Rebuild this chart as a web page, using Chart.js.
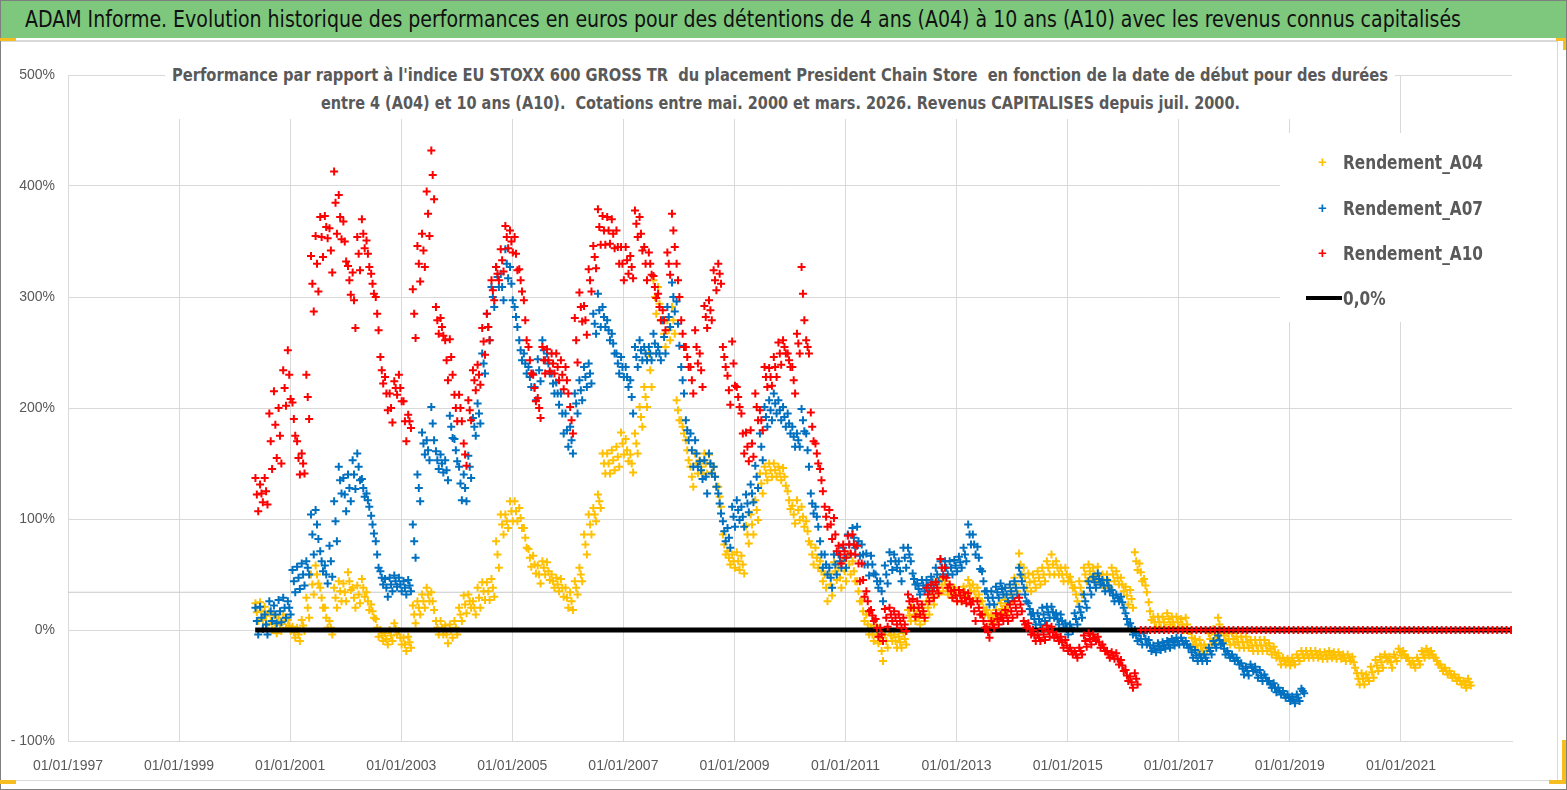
<!DOCTYPE html>
<html>
<head>
<meta charset="utf-8">
<script src="https://cdn.jsdelivr.net/npm/chart.js@4.4.1/dist/chart.umd.min.js"></script>
<style>
    body { margin: 0; width: 1567px; height: 790px; overflow: hidden; background: #fff; }
    #page { position: absolute; left: 0; top: 0; width: 1567px; height: 790px; }
    #chart { position: absolute; left: 0; top: 0; }
    #outer { position: absolute; left: 0; top: 0; width: 1565px; height: 788px; border: 1px solid #7f7f7f; pointer-events: none; }
    #box { position: absolute; left: 0; top: 40px; width: 1557px; height: 738px; border-top: 2px solid #d9d9d9; border-right: 1px solid #d9d9d9; border-bottom: 1px solid #d9d9d9; pointer-events: none; }
    #banner { position: absolute; left: 1px; top: 1px; width: 1565px; height: 37px; background: #7dc87c; }
    .fit { position: absolute; display: inline-block; white-space: pre; transform-origin: 0 50%;
        font-family: 'Liberation Sans Narrow', 'DejaVu Sans Condensed', sans-serif; }
    #bannerText { left: 24px; top: 0; font-size: 23px; line-height: 37px; color: #111; }
    #titleBox { position: absolute; left: 165px; top: 60px; width: 1230px; height: 59px; background: #fff; }
    .tl { font-weight: bold; font-size: 18px; line-height: 26px; color: #595959; }
    #legend { position: absolute; left: 1280px; top: 133px; width: 232px; height: 189px; background: #fff; }
    .item { position: absolute; left: 0; height: 30px; width: 232px; }
    .item .t { left: 63px; top: 0; line-height: 30px; font-weight: bold; font-size: 20px; color: #595959; }
    .item .m { position: absolute; left: 38px; top: 0; line-height: 30px; font-size: 15px; font-weight: bold;
        font-family: 'Liberation Sans', sans-serif; }
    .item .l { position: absolute; left: 26px; top: 13px; width: 36px; height: 4px; background: #000; }
    .handle { position: absolute; background: #f5bd1f; }
</style>
</head>
<body>
<div id="page">
    <canvas id="chart" width="1567" height="790"></canvas>
    <div id="box"></div>
    <div id="banner"><span id="bannerText" class="fit">ADAM Informe. Evolution historique des performances en euros pour des détentions de 4 ans (A04) à 10 ans (A10) avec les revenus connus capitalisés</span></div>
    <div id="titleBox">
        <span id="title1" class="fit tl">Performance par rapport à l'indice EU STOXX 600 GROSS TR  du placement President Chain Store  en fonction de la date de début pour des durées</span>
        <span id="title2" class="fit tl">entre 4 (A04) et 10 ans (A10).  Cotations entre mai. 2000 et mars. 2026. Revenus CAPITALISES depuis juil. 2000.</span>
    </div>
    <div id="legend"></div>
    <div id="outer"></div>
    <div class="handle" style="left:0;top:38px;width:16px;height:3px"></div>
    <div class="handle" style="left:1556px;top:38px;width:10px;height:3px"></div>
    <div class="handle" style="left:1563px;top:38px;width:3px;height:12px"></div>
    <div class="handle" style="left:0;top:780px;width:16px;height:4px"></div>
    <div class="handle" style="left:1562px;top:740px;width:4px;height:44px"></div>
    <div class="handle" style="left:1549px;top:780px;width:17px;height:4px"></div>
</div>

<script>
// monthly readings from mid-2000; "band" = half height of the daily cloud that month
const firstMonth = 2000.4;

const rendementA04 = [
    16, 17, 13, 8, 5, 5, 8, 4, -2, -4, 4, 20,
    41, 50, 29, 11, 2, 29, 35, 34, 44, 29, 32, 38,
    26, 17, 2, -5, -8, -5, 1, -7, -13, -11, 14, 20,
    26, 32, 26, 2, 2, -4, -1, 2, 14, 23, 26, 20,
    29, 35, 35, 38, 68, 95, 98, 107, 107, 101, 83, 65,
    59, 50, 56, 53, 44, 41, 38, 29, 26, 38, 50, 77,
    95, 104, 116, 150, 150, 153, 156, 168, 162, 150, 168, 192,
    210, 234, 300, 294, 267, 270, 279, 198, 183, 162, 138, 150,
    147, 150, 150, 138, 120, 77, 65, 62, 62, 59, 86, 95,
    108, 132, 141, 144, 144, 141, 138, 117, 104, 108, 102, 89,
    68, 65, 53, 38, 41, 53, 47, 53, 59, 53, 35, 17,
    5, -4, -4, -19, -10, -5, -10, -11, -8, 13, 14, 11,
    14, 20, 29, 38, 41, 38, 34, 32, 31, 34, 40, 35,
    32, 20, 13, 11, 13, 19, 22, 32, 41, 59, 47, 43,
    44, 47, 50, 56, 59, 56, 50, 50, 43, 32, 38, 50,
    53, 50, 49, 44, 44, 50, 47, 41, 31, 28, 62, 52,
    40, 17, 7, 7, 7, 10, 7, 7, 5, 5, -7, -13,
    -14, -16, -8, -4, 5, -5, -8, -8, -11, -11, -11, -14,
    -14, -14, -14, -17, -20, -26, -28, -29, -28, -25, -22, -22,
    -22, -22, -23, -23, -22, -23, -23, -25, -25, -29, -44, -44,
    -43, -38, -32, -29, -25, -29, -25, -20, -22, -28, -31, -28,
    -22, -20, -22, -28, -34, -37, -40, -43, -46, -49, -47
];
const bandA04 = [
    8, 8, 8, 8, 8, 6, 6, 5, 5, 6, 5, 9,
    9, 8, 9, 9, 6, 9, 9, 8, 8, 9, 8, 8,
    8, 6, 8, 5, 5, 5, 5, 6, 6, 5, 8, 6,
    6, 6, 8, 6, 6, 8, 6, 6, 6, 8, 6, 6,
    9, 8, 8, 8, 12, 9, 6, 9, 9, 9, 9, 8,
    8, 8, 6, 8, 6, 6, 8, 9, 8, 6, 6, 9,
    9, 6, 6, 9, 9, 9, 9, 10, 10, 8, 9, 9,
    9, 15, 15, 15, 12, 9, 12, 9, 6, 9, 9, 9,
    6, 9, 8, 9, 9, 9, 6, 6, 8, 8, 8, 9,
    9, 9, 6, 6, 6, 6, 8, 8, 8, 9, 9, 9,
    9, 9, 9, 12, 10, 8, 9, 9, 9, 9, 9, 9,
    9, 6, 8, 9, 6, 5, 6, 5, 5, 5, 6, 6,
    6, 6, 6, 6, 6, 6, 5, 6, 5, 5, 5, 6,
    6, 6, 5, 3, 5, 5, 5, 6, 6, 10, 9, 8,
    6, 6, 6, 6, 9, 6, 6, 6, 5, 6, 6, 6,
    6, 6, 8, 6, 6, 6, 6, 6, 8, 8, 8, 8,
    6, 8, 5, 5, 5, 5, 5, 5, 5, 6, 6, 5,
    5, 3, 5, 5, 6, 5, 5, 5, 5, 5, 5, 5,
    5, 5, 5, 5, 5, 5, 3, 3, 3, 3, 3, 3,
    3, 3, 3, 3, 3, 3, 3, 3, 3, 5, 5, 5,
    3, 5, 5, 5, 3, 5, 3, 3, 3, 3, 3, 3,
    3, 3, 3, 3, 3, 3, 3, 3, 3, 3, 3
];

const rendementA07 = [
    8, 11, 5, 17, 14, 17, 20, 20, 44, 47, 50, 56,
    86, 95, 62, 50, 62, 98, 135, 122, 128, 140, 147, 128,
    117, 95, 68, 47, 38, 41, 44, 41, 38, 40, 80, 128,
    168, 162, 186, 153, 150, 144, 183, 162, 132, 128, 147, 183,
    195, 240, 273, 300, 318, 309, 330, 312, 282, 252, 240, 228,
    219, 234, 252, 240, 222, 213, 195, 180, 171, 204, 216, 228,
    231, 276, 288, 282, 270, 258, 240, 237, 228, 210, 246, 252,
    249, 249, 258, 249, 264, 282, 300, 276, 225, 180, 162, 159,
    144, 138, 150, 138, 114, 89, 83, 102, 108, 102, 114, 123,
    138, 165, 192, 198, 204, 198, 192, 186, 174, 171, 189, 162,
    114, 102, 68, 59, 47, 59, 62, 65, 77, 83, 80, 68,
    59, 59, 44, 35, 50, 62, 62, 53, 65, 68, 46, 37,
    40, 40, 43, 50, 56, 56, 56, 58, 61, 68, 86, 77,
    65, 44, 29, 29, 34, 37, 32, 35, 38, 50, 32, 19,
    10, 10, 14, 16, 16, 10, 8, 1, 2, 10, 16, 26,
    38, 43, 46, 40, 40, 31, 29, 25, 10, 1, -5, -8,
    -8, -14, -17, -15, -14, -13, -11, -10, -10, -13, -20, -23,
    -25, -25, -19, -13, -9, -17, -22, -25, -28, -35, -37, -34,
    -38, -41, -43, -49, -52, -55, -58, -61, -63, -61, -55
];
const bandA07 = [
    12, 10, 9, 9, 8, 10, 9, 6, 10, 10, 10, 6,
    18, 13, 9, 8, 14, 18, 12, 15, 12, 13, 12, 8,
    6, 8, 12, 6, 8, 6, 5, 6, 6, 5, 15, 12,
    10, 9, 15, 8, 8, 9, 10, 10, 15, 12, 10, 8,
    9, 9, 12, 9, 9, 12, 13, 15, 9, 9, 9, 9,
    12, 10, 9, 9, 9, 10, 18, 15, 12, 9, 9, 9,
    9, 9, 15, 9, 9, 9, 9, 9, 9, 15, 9, 9,
    6, 6, 9, 6, 15, 9, 13, 20, 12, 9, 15, 12,
    8, 15, 9, 9, 9, 9, 9, 9, 9, 9, 8, 8,
    10, 12, 9, 9, 9, 9, 9, 9, 9, 6, 10, 15,
    9, 9, 12, 9, 9, 9, 6, 9, 9, 9, 13, 9,
    10, 8, 6, 9, 8, 8, 6, 9, 9, 6, 5, 5,
    5, 5, 5, 6, 6, 6, 6, 5, 5, 6, 9, 9,
    10, 9, 6, 6, 5, 5, 6, 6, 6, 6, 6, 5,
    5, 5, 6, 5, 5, 5, 6, 5, 3, 5, 5, 6,
    6, 5, 5, 5, 5, 5, 3, 5, 5, 5, 5, 5,
    5, 5, 3, 3, 3, 3, 3, 3, 3, 3, 5, 5,
    3, 3, 3, 3, 4, 5, 3, 3, 3, 5, 4, 3,
    5, 5, 3, 3, 4, 3, 3, 3, 3, 3, 2
];

const rendementA10 = [
    122, 123, 125, 170, 185, 175, 218, 230, 190, 155, 150, 210,
    312, 330, 354, 363, 342, 385, 372, 350, 315, 297, 339, 357,
    339, 312, 285, 234, 213, 200, 218, 218, 188, 188, 285, 330,
    342, 375, 410, 279, 273, 243, 246, 200, 200, 158, 198, 225,
    230, 260, 273, 306, 321, 333, 354, 350, 339, 315, 279, 243,
    218, 200, 243, 243, 240, 237, 230, 225, 189, 261, 291, 279,
    315, 336, 363, 360, 360, 357, 345, 330, 333, 327, 366, 357,
    330, 330, 309, 291, 279, 330, 360, 315, 267, 246, 225, 255,
    234, 282, 288, 315, 321, 246, 216, 240, 210, 177, 165, 168,
    201, 189, 228, 228, 237, 249, 255, 243, 225, 258, 303, 255,
    183, 159, 135, 102, 95, 86, 68, 71, 77, 77, 60, 45,
    26, 13, 2, -4, 11, 14, 11, 8, 5, 26, 20, 20,
    17, 32, 35, 38, 56, 47, 35, 31, 31, 29, 28, 17,
    20, 8, -2, 5, 10, 11, 13, 17, 20, 23, 5, 1,
    -5, -7, -4, -1, -2, -7, -11, -14, -19, -22, -19, -10,
    -8, -7, -11, -16, -22, -23, -26, -32, -41, -47, -44,
    0, 0, 0, 0, 0, 0, 0, 0, 0, 0, 0, 0, 0, 0, 0, 0, 0, 0, 0, 0,
    0, 0, 0, 0, 0, 0, 0, 0, 0, 0, 0, 0, 0, 0, 0, 0, 0, 0, 0, 0,
    0, 0, 0, 0, 0, 0, 0, 0, 0, 0, 0, 0, 0, 0, 0, 0, 0, 0, 0, 0,
    0, 0, 0, 0, 0, 0, 0, 0, 0, 0, 0, 0, 0, 0, 0, 0, 0, 0, 0, 0, 0
];
const bandA10 = [
    15, 8, 12, 25, 30, 25, 16, 22, 15, 15, 9, 20,
    25, 25, 18, 10, 20, 28, 20, 18, 13, 25, 15, 13,
    12, 9, 15, 12, 15, 13, 6, 12, 18, 6, 22, 16,
    15, 20, 22, 12, 8, 18, 16, 12, 12, 10, 9, 9,
    9, 12, 12, 9, 6, 10, 10, 10, 15, 10, 18, 12,
    12, 9, 12, 10, 9, 12, 13, 12, 12, 20, 13, 13,
    10, 10, 16, 13, 12, 13, 15, 15, 12, 10, 12, 15,
    15, 10, 10, 12, 9, 10, 15, 15, 12, 9, 12, 15,
    15, 10, 9, 9, 9, 9, 13, 20, 9, 18, 13, 12,
    12, 9, 9, 8, 9, 10, 6, 6, 12, 9, 24, 6,
    13, 9, 10, 9, 13, 15, 8, 6, 8, 9, 16, 15,
    9, 5, 8, 6, 8, 6, 6, 6, 6, 6, 8, 6,
    6, 6, 6, 5, 8, 9, 6, 5, 5, 5, 5, 9,
    6, 6, 5, 3, 5, 3, 5, 6, 6, 6, 3, 5,
    5, 3, 5, 5, 5, 3, 5, 5, 3, 3, 3, 5,
    5, 3, 5, 3, 3, 3, 5, 5, 5, 5, 5
];

const zeroLineYears = [2000.37, 2023.0];
const zeroLineValues = [0, 0];
const refLineYears = [1997, 2023];
const refLineValues = [34, 34];

const tickYears = [1997, 1999, 2001, 2003, 2005, 2007, 2009, 2011, 2013, 2015, 2017, 2019, 2021];
const tickPercents = [-100, 0, 100, 200, 300, 400, 500];

const seriesNames = ['Rendement_A04', 'Rendement_A07', 'Rendement_A10', '0,0%'];
const seriesColors = ['#ffc000', '#0070c0', '#ff0000', '#000000'];

// each month: bottom, middle and top of the cloud
function toPoints(values, band) {
    const pts = [];
    values.forEach((v, i) => {
        const x = firstMonth + i / 12;
        const b = band[i] || 0;
        pts.push({ x: x, y: v });
        if (b > 0) {
            pts.push({ x: x + 1 / 40, y: v - b });
            pts.push({ x: x - 1 / 40, y: v + b });
        }
    });
    return pts;
}
function pairPoints(xs, ys) {
    return xs.map((x, i) => ({ x: x, y: ys[i] }));
}

function markerSet(label, values, band, color, order) {
    return {
        type: 'scatter',
        label: label,
        data: toPoints(values, band),
        pointStyle: 'cross',
        pointRadius: 4,
        pointBorderWidth: 2,
        borderColor: color,
        backgroundColor: color,
        order: order
    };
}

Chart.defaults.font.family = "'Liberation Sans', Arial, sans-serif";
Chart.defaults.color = '#595959';

const ctx = document.getElementById('chart');

new Chart(ctx, {
    type: 'scatter',
    data: {
        datasets: [
            markerSet(seriesNames[0], rendementA04, bandA04, seriesColors[0], 3),
            markerSet(seriesNames[1], rendementA07, bandA07, seriesColors[1], 2),
            markerSet(seriesNames[2], rendementA10, bandA10, seriesColors[2], 0),
            {
                type: 'line',
                label: seriesNames[3],
                data: pairPoints(zeroLineYears, zeroLineValues),
                borderColor: seriesColors[3],
                borderWidth: 5,
                pointRadius: 0,
                order: 1
            },
            {
                type: 'line',
                label: 'ref',
                data: pairPoints(refLineYears, refLineValues),
                borderColor: '#c8c8c8',
                borderWidth: 1.2,
                pointRadius: 0,
                order: 4
            }
        ]
    },
    options: {
        responsive: false,
        animation: false,
        layout: { autoPadding: false, padding: { left: 0, right: 55, top: 75, bottom: 9 } },
        plugins: {
            legend: { display: false },
            tooltip: { enabled: false }
        },
        scales: {
            x: {
                type: 'linear',
                min: 1997,
                max: 2023,
                afterFit: s => { s.height = 40; },
                afterBuildTicks: s => { s.ticks = tickYears.map(v => ({ value: v })); },
                grid: { color: '#d9d9d9', drawTicks: false },
                border: { color: '#d9d9d9' },
                ticks: {
                    padding: 17,
                    maxRotation: 0,
                    autoSkip: false,
                    font: { size: 14 },
                    callback: v => '01/01/' + v
                }
            },
            y: {
                min: -100,
                max: 500,
                afterFit: s => { s.width = 68; },
                afterBuildTicks: s => { s.ticks = tickPercents.map(v => ({ value: v })); },
                grid: { color: '#d9d9d9', drawTicks: false },
                border: { color: '#d9d9d9' },
                ticks: {
                    padding: 13,
                    font: { size: 14 },
                    callback: v => (v < 0 ? '- ' + Math.abs(v) : v) + '%'
                }
            }
        }
    }
});

// legend built from the series names and colours
const legend = document.getElementById('legend');
const legendTops = [14, 60, 105, 150];
seriesNames.forEach((name, i) => {
    const item = document.createElement('div');
    item.className = 'item';
    item.style.top = legendTops[i] + 'px';
    if (i < 3) {
        item.innerHTML = '<span class="m" style="color:' + seriesColors[i] + '">+</span><span class="t fit">' + name + '</span>';
    } else {
        item.innerHTML = '<span class="l"></span><span class="t fit">' + name + '</span>';
    }
    legend.appendChild(item);
});

// squeeze the text to the widths measured on the picture
function fit(el, width, left, top) {
    const w = el.getBoundingClientRect().width;
    const k = width / w;
    el.style.transform = 'scaleX(' + k + ')';
    if (left !== undefined) el.style.left = left + 'px';
    if (top !== undefined) el.style.top = top + 'px';
    return k;
}
fit(document.getElementById('bannerText'), 1436);
fit(document.getElementById('title1'), 1216, 172 - 165, 2);
fit(document.getElementById('title2'), 919, 321 - 165, 30);
const legendTexts = document.querySelectorAll('#legend .t');
const k = fit(legendTexts[0], 140);
legendTexts.forEach(t => { t.style.transform = 'scaleX(' + k + ')'; });
</script>
</body>
</html>
